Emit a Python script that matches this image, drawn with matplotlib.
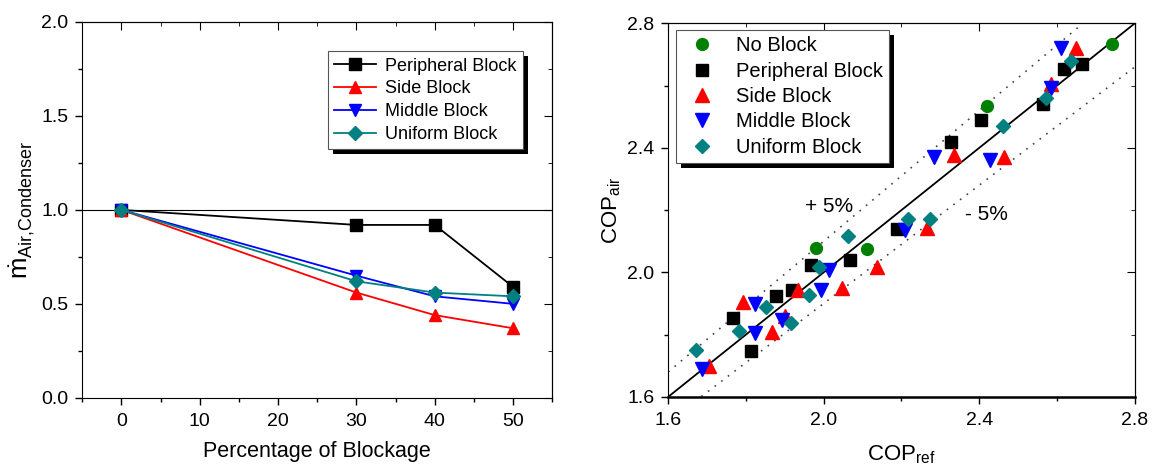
import matplotlib.pyplot as plt
import numpy as np
from matplotlib.patches import Rectangle
from matplotlib.ticker import MultipleLocator
from matplotlib.transforms import IdentityTransform

plt.rcParams['font.family'] = ['Liberation Sans', 'DejaVu Sans']
plt.rcParams['mathtext.fontset'] = 'custom'
plt.rcParams['mathtext.rm'] = 'Liberation Sans'
plt.rcParams['mathtext.it'] = 'Liberation Sans'
plt.rcParams['mathtext.bf'] = 'Liberation Sans:bold'

# --- debit d'air au condenseur selon le taux de blocage ---
blockage = [0, 30, 40, 50]
m_peripheral = [1.0, 0.92, 0.92, 0.59]
m_side = [1.0, 0.56, 0.44, 0.37]
m_middle = [1.0, 0.65, 0.54, 0.50]
m_uniform = [1.0, 0.62, 0.56, 0.54]

# --- COP air vs COP refrigerant ---
noblock_ref = [2.741, 2.419, 1.981, 2.112]
noblock_air = [2.734, 2.535, 2.079, 2.074]

periph_ref = [2.664, 2.617, 2.563, 2.405, 2.327, 2.188, 2.068, 1.968, 1.918, 1.878, 1.766, 1.813]
periph_air = [2.670, 2.654, 2.541, 2.490, 2.419, 2.138, 2.039, 2.023, 1.942, 1.923, 1.853, 1.748]

side_ref = [2.648, 2.585, 2.336, 2.463, 2.267, 2.136, 2.047, 1.934, 1.793, 1.900, 1.866, 1.705]
side_air = [2.722, 2.605, 2.377, 2.372, 2.143, 2.017, 1.951, 1.942, 1.904, 1.861, 1.810, 1.698]

middle_ref = [2.610, 2.585, 2.283, 2.428, 2.210, 2.013, 1.993, 1.823, 1.893, 1.823, 1.687]
middle_air = [2.722, 2.592, 2.372, 2.361, 2.135, 2.009, 1.942, 1.899, 1.847, 1.804, 1.689]

uniform_ref = [2.637, 2.573, 2.460, 2.217, 2.274, 2.063, 1.988, 1.961, 1.852, 1.916, 1.782, 1.671]
uniform_air = [2.678, 2.560, 2.471, 2.173, 2.173, 2.116, 2.017, 1.926, 1.888, 1.838, 1.811, 1.752]

ecart = 0.05

TEAL = '#008080'
fig = plt.figure(figsize=(11.52, 4.68), dpi=100)
ax1 = fig.add_axes([0.0714, 0.150, 0.408, 0.803])
ax2 = fig.add_axes([0.580, 0.152, 0.405, 0.798])


def ticks_origine(ax, xmaj, xmin, ymaj, ymin):
    ax.xaxis.set_major_locator(MultipleLocator(xmaj))
    ax.xaxis.set_minor_locator(MultipleLocator(xmin))
    ax.yaxis.set_major_locator(MultipleLocator(ymaj))
    ax.yaxis.set_minor_locator(MultipleLocator(ymin))
    ax.tick_params(which='both', direction='out', labelsize=14, top=False, right=False)
    ax.tick_params(which='major', length=5, width=1)
    ax.tick_params(which='minor', length=3, width=1)
    ax.tick_params(axis='x', pad=6)
    ax.tick_params(axis='y', pad=5)
    haut = ax.secondary_xaxis('top')
    haut.xaxis.set_major_locator(MultipleLocator(xmaj))
    haut.xaxis.set_minor_locator(MultipleLocator(xmin))
    haut.tick_params(which='both', direction='in', labeltop=False)
    haut.tick_params(which='major', length=6)
    haut.tick_params(which='minor', length=3)
    droite = ax.secondary_yaxis('right')
    droite.yaxis.set_major_locator(MultipleLocator(ymaj))
    droite.yaxis.set_minor_locator(MultipleLocator(ymin))
    droite.tick_params(which='both', direction='in', labelright=False)
    droite.tick_params(which='major', length=6)
    droite.tick_params(which='minor', length=3)


def ombre(ax, leg, dx=5, dy=5):
    fig.canvas.draw()
    bb = leg.get_frame().get_window_extent()
    r = Rectangle((bb.x0 + dx, bb.y0 - dy), bb.width, bb.height,
                  transform=IdentityTransform(), facecolor='black',
                  edgecolor='none', zorder=4.9, clip_on=False)
    ax.add_artist(r)


# ---------------- graphe de gauche ----------------
ax1.axhline(1.0, color='black', lw=0.8, zorder=1)
ax1.plot(blockage, m_peripheral, '-s', color='black', lw=1.3, ms=8, label='Peripheral Block')
ax1.plot(blockage, m_side, '-^', color='red', lw=1.3, ms=8.5, label='Side Block')
ax1.plot(blockage, m_middle, '-v', color='blue', lw=1.3, ms=8.5, label='Middle Block')
ax1.plot(blockage, m_uniform, '-D', color=TEAL, lw=1.3, ms=7, label='Uniform Block')
ax1.set_xlim(-5, 55)
ax1.set_ylim(0, 2.0)
ticks_origine(ax1, 10, 5, 0.5, 0.25)
ax1.set_xlabel('Percentage of Blockage', fontsize=15.5, labelpad=8)
ax1.set_ylabel(r'$\dot{m}_{\mathrm{Air{,}Condenser}}$', fontsize=18.5, labelpad=3)
leg1 = ax1.legend(loc='upper left', bbox_to_anchor=(0.523, 0.922), borderaxespad=0,
                  fontsize=13, fancybox=False, framealpha=1, edgecolor='#555555',
                  handlelength=2.3, handletextpad=0.5, labelspacing=0.32, borderpad=0.35)
leg1.get_frame().set_linewidth(0.8)

# ---------------- graphe de droite ----------------
lim = np.array([1.6, 2.8])
ax2.plot(lim, lim, color='black', lw=1.3, zorder=2)
ax2.plot(lim, lim * (1 + ecart), color='#444444', lw=1.2, ls=(0, (1, 4)), zorder=2)
ax2.plot(lim, lim * (1 - ecart), color='#444444', lw=1.2, ls=(0, (1, 4)), zorder=2)
ax2.plot(noblock_ref, noblock_air, 'o', color='green', ms=8.5, ls='none', label='No Block', zorder=3)
ax2.plot(periph_ref, periph_air, 's', color='black', ms=8, ls='none', label='Peripheral Block', zorder=3)
ax2.plot(side_ref, side_air, '^', color='red', ms=9.5, ls='none', label='Side Block', zorder=3)
ax2.plot(middle_ref, middle_air, 'v', color='blue', ms=9.5, ls='none', label='Middle Block', zorder=3)
ax2.plot(uniform_ref, uniform_air, 'D', color=TEAL, ms=7.5, ls='none', label='Uniform Block', zorder=3)
ax2.text(2.013, 2.212, '+ 5%', fontsize=15, ha='center', va='center')
ax2.text(2.419, 2.185, '- 5%', fontsize=15, ha='center', va='center')
ax2.set_xlim(1.6, 2.8)
ax2.set_ylim(1.6, 2.8)
ticks_origine(ax2, 0.4, 0.2, 0.4, 0.2)
ax2.spines['bottom'].set_linewidth(1.8)
ax2.set_xlabel(r'COP$_{\mathrm{ref}}$', fontsize=16, labelpad=10)
ax2.set_ylabel(r'COP$_{\mathrm{air}}$', fontsize=16, labelpad=3)
leg2 = ax2.legend(loc='upper left', bbox_to_anchor=(0.0165, 0.982), borderaxespad=0,
                  fontsize=14.5, fancybox=False, framealpha=1, edgecolor='#555555',
                  handlelength=2.0, handletextpad=0.7, labelspacing=0.32, borderpad=0.3)
leg2.get_frame().set_linewidth(0.8)

ombre(ax1, leg1)
ombre(ax2, leg2)

fig.savefig('out.png', dpi=100)
